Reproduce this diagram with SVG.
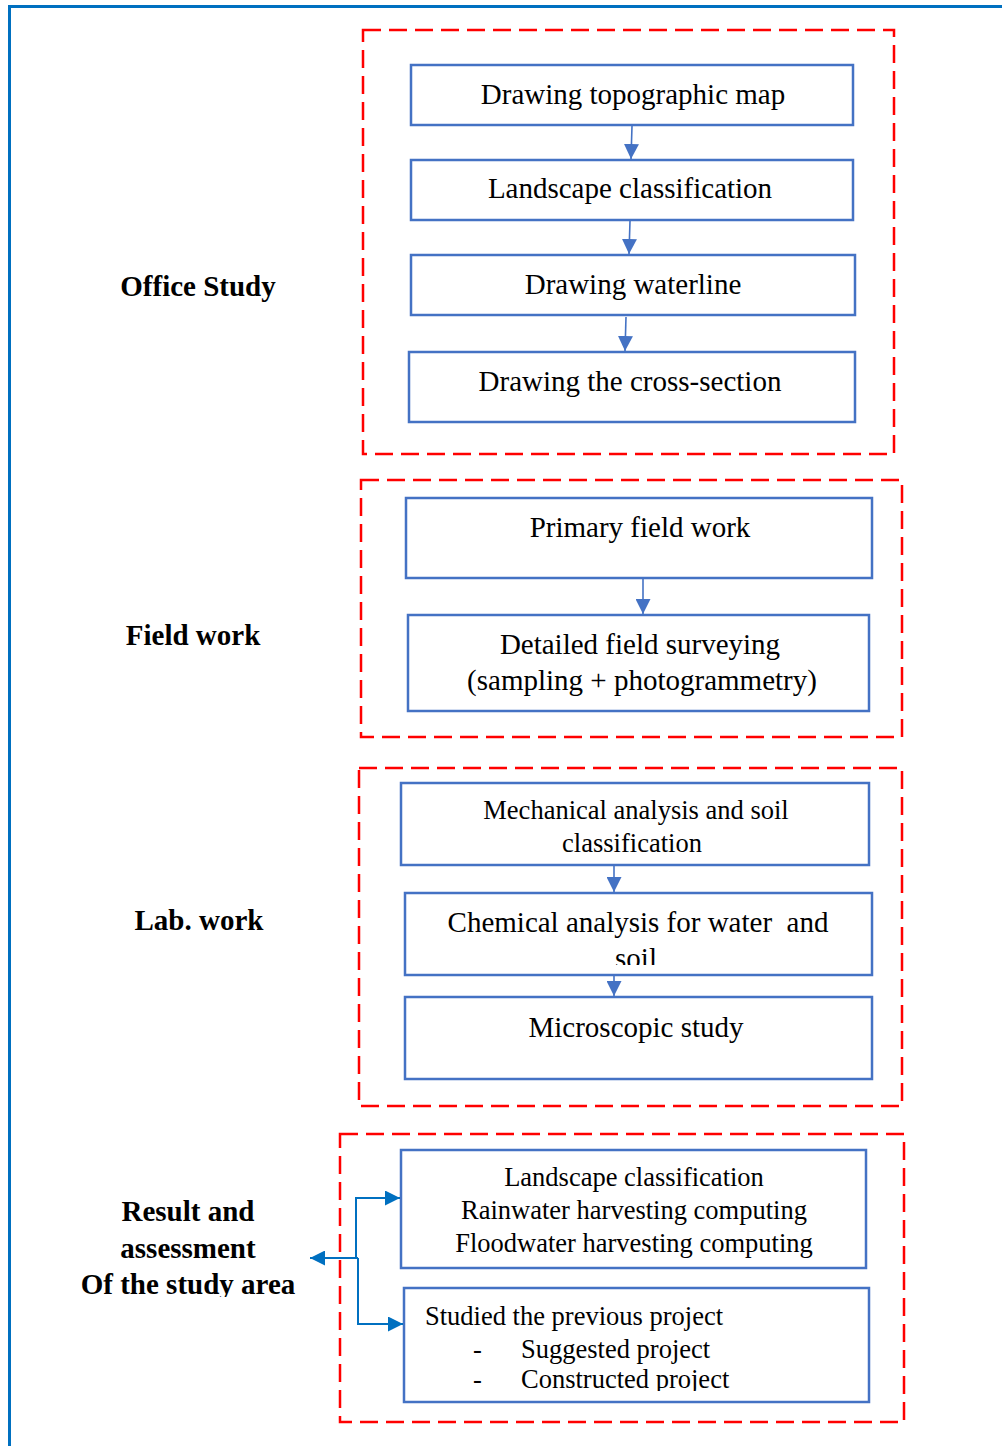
<svg xmlns="http://www.w3.org/2000/svg" width="1002" height="1446" viewBox="0 0 1002 1446">
  <style>
    .frame { fill: none; stroke: #0070C0; stroke-width: 3; }
    .group { fill: none; stroke: #FF0000; stroke-width: 2.5; stroke-dasharray: 18 8; }
    .box { fill: #FFFFFF; stroke: #4472C4; stroke-width: 2.5; }
    .link { fill: none; stroke: #4472C4; stroke-width: 1.6; }
    .link2 { fill: none; stroke: #0070C0; stroke-width: 2; }
    .t { font-family: "Liberation Serif", "Times New Roman", serif; font-size: 29px; fill: #000; text-anchor: middle; }
    .s { font-family: "Liberation Serif", "Times New Roman", serif; font-size: 26.5px; fill: #000; }
    .c { text-anchor: middle; }
    .lbl { font-family: "Liberation Serif", "Times New Roman", serif; font-size: 29px; font-weight: bold; fill: #000; text-anchor: middle; }
  </style>
  <defs>
    <marker id="ah" viewBox="0 0 15 15" refX="15" refY="7.5" markerWidth="15" markerHeight="15" markerUnits="userSpaceOnUse" orient="auto">
      <path d="M0,0 L15,7.5 L0,15 z" fill="#4472C4"/>
    </marker>
    <marker id="ah2" viewBox="0 0 15 15" refX="15" refY="7.5" markerWidth="15" markerHeight="15" markerUnits="userSpaceOnUse" orient="auto">
      <path d="M0,0 L15,7.5 L0,15 z" fill="#0070C0"/>
    </marker>
    <clipPath id="clipChem"><rect x="405" y="893" width="467" height="72"/></clipPath>
    <clipPath id="clipPrev"><rect x="404" y="1288" width="465" height="103"/></clipPath>
    <clipPath id="clipLbl"><rect x="60" y="1180" width="260" height="117"/></clipPath>
  </defs>

  <rect width="1002" height="1446" fill="#FFFFFF"/>
  <!-- page frame -->
  <path class="frame" d="M9.5,1446 V6.5 H1002"/>

  <!-- stage groupings -->
  <g id="groups">
    <rect class="group" x="363" y="30" width="531" height="424"/>
    <rect class="group" x="361" y="480" width="541" height="257"/>
    <rect class="group" x="359" y="768" width="543" height="338"/>
    <rect class="group" x="340" y="1134" width="564" height="288"/>
  </g>

  <!-- stage labels -->
  <g id="label-office"><text class="lbl" x="198" y="296">Office Study</text></g>
  <g id="label-field"><text class="lbl" x="193" y="645">Field work</text></g>
  <g id="label-lab"><text class="lbl" x="199" y="930">Lab. work</text></g>
  <g id="label-result" clip-path="url(#clipLbl)">
    <text class="lbl" x="188" y="1221">Result and</text>
    <text class="lbl" x="188" y="1258">assessment</text>
    <text class="lbl" x="188" y="1294">Of the study area</text>
  </g>

  <!-- office study -->
  <g id="topo">
    <rect class="box" x="411" y="65" width="442" height="60"/>
    <text class="t" x="633" y="104">Drawing topographic map</text>
  </g>
  <g id="landscape">
    <rect class="box" x="411" y="160" width="442" height="60"/>
    <text class="t" x="630" y="198">Landscape classification</text>
  </g>
  <g id="waterline">
    <rect class="box" x="411" y="255" width="444" height="60"/>
    <text class="t" x="633" y="294">Drawing waterline</text>
  </g>
  <g id="cross-section">
    <rect class="box" x="409" y="352" width="446" height="70"/>
    <text class="t" x="630" y="391">Drawing the cross-section</text>
  </g>

  <!-- field work -->
  <g id="primary-field">
    <rect class="box" x="406" y="498" width="466" height="80"/>
    <text class="t" x="640" y="537">Primary field work</text>
  </g>
  <g id="detailed-field">
    <rect class="box" x="408" y="615" width="461" height="96"/>
    <text class="t" x="640" y="654">Detailed field surveying</text>
    <text class="t" x="642" y="690">(sampling + photogrammetry)</text>
  </g>

  <!-- lab work -->
  <g id="mechanical">
    <rect class="box" x="401" y="783" width="468" height="82"/>
    <text class="s c" x="636" y="819">Mechanical analysis and soil</text>
    <text class="s c" x="632" y="852">classification</text>
  </g>
  <g id="chemical">
    <rect class="box" x="405" y="893" width="467" height="82"/>
    <g clip-path="url(#clipChem)">
      <text class="t" x="638" y="932" style="white-space:pre">Chemical analysis for water  and</text>
      <text class="t" x="636" y="968">soil</text>
    </g>
  </g>
  <g id="microscopic">
    <rect class="box" x="405" y="997" width="467" height="82"/>
    <text class="t" x="636" y="1037">Microscopic study</text>
  </g>

  <!-- results -->
  <g id="computing">
    <rect class="box" x="401" y="1150" width="465" height="118"/>
    <text class="s c" x="634" y="1186">Landscape classification</text>
    <text class="s c" x="634" y="1219">Rainwater harvesting computing</text>
    <text class="s c" x="634" y="1252">Floodwater harvesting computing</text>
  </g>
  <g id="previous-project">
    <rect class="box" x="404" y="1288" width="465" height="114"/>
    <g clip-path="url(#clipPrev)">
      <text class="s" x="425" y="1325">Studied the previous project</text>
      <text class="s" x="473" y="1358">-</text>
      <text class="s" x="521" y="1358">Suggested project</text>
      <text class="s" x="473" y="1388">-</text>
      <text class="s" x="521" y="1388">Constructed project</text>
    </g>
  </g>

  <!-- connectors -->
  <g id="connectors">
    <path class="link" d="M632,126 L631,159" marker-end="url(#ah)"/>
    <path class="link" d="M630,221 L629,254" marker-end="url(#ah)"/>
    <path class="link" d="M626,317 L625,351" marker-end="url(#ah)"/>
    <path class="link" d="M643,579 L643,614" marker-end="url(#ah)"/>
    <path class="link" d="M614,866 L614,892" marker-end="url(#ah)"/>
    <path class="link" d="M614,976 L614,996" marker-end="url(#ah)"/>
    <path class="link2" d="M358,1258 H310" marker-end="url(#ah2)"/>
    <path class="link2" d="M356,1258 V1198 H400" marker-end="url(#ah2)"/>
    <path class="link2" d="M358,1258 V1324 H403" marker-end="url(#ah2)"/>
  </g>
</svg>
